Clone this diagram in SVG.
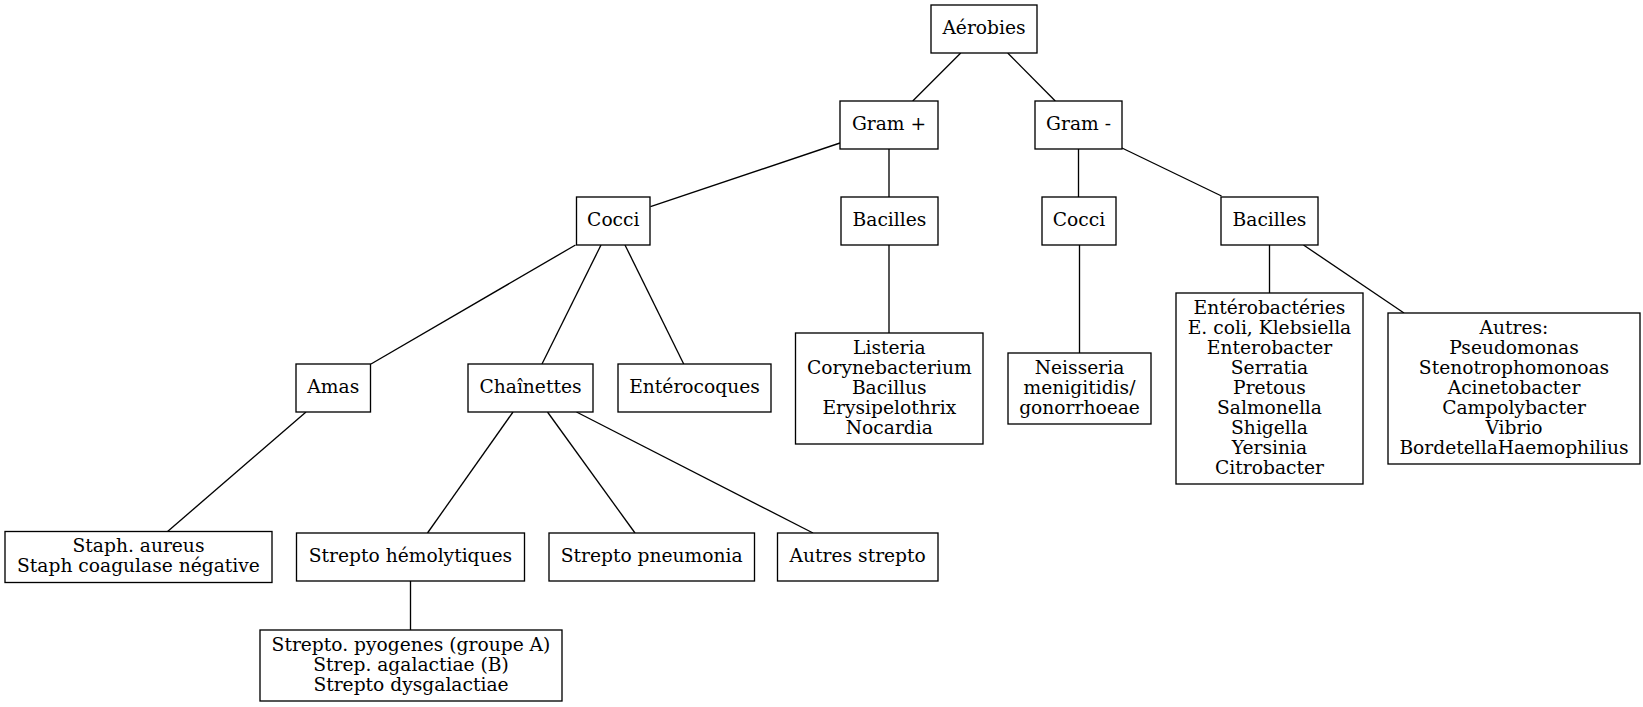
<svg xmlns="http://www.w3.org/2000/svg" width="1643" height="707" viewBox="0 0 1643 707">
<style>
rect{fill:#fff;stroke:#000;stroke-width:1.33}
line{stroke:#000;stroke-width:1.33}
text{font-family:"DejaVu Serif","Liberation Serif",serif;font-size:18.67px;fill:#000;text-anchor:middle}
</style>
<rect x="0" y="0" width="1643" height="707" style="fill:#fff;stroke:none"/>
<g id="edges">
<line x1="960.7" y1="53" x2="912.7" y2="101"/>
<line x1="1007.7" y1="53" x2="1055.3" y2="101"/>
<line x1="840" y1="143" x2="650.5" y2="206.7"/>
<line x1="889" y1="149" x2="889" y2="197"/>
<line x1="1078.5" y1="149" x2="1078.5" y2="197"/>
<line x1="1122" y1="148" x2="1221.5" y2="196"/>
<line x1="575.5" y1="245" x2="371" y2="364"/>
<line x1="601" y1="245" x2="542" y2="364"/>
<line x1="625" y1="245" x2="683.7" y2="364"/>
<line x1="889" y1="245" x2="889" y2="333"/>
<line x1="1079.5" y1="245" x2="1079.5" y2="353"/>
<line x1="1269.5" y1="245" x2="1269.5" y2="293"/>
<line x1="1303.5" y1="245" x2="1404" y2="313"/>
<line x1="306" y1="412" x2="167" y2="532"/>
<line x1="513" y1="412" x2="427.5" y2="533"/>
<line x1="547.5" y1="412" x2="635" y2="533"/>
<line x1="576.5" y1="412" x2="813" y2="533"/>
<line x1="410.5" y1="581" x2="410.5" y2="630"/>
</g>
<g id="aerobies"><rect x="931" y="5" width="106" height="48"/><text x="984" y="34">Aérobies</text></g>
<g id="gram_plus"><rect x="840" y="101" width="98" height="48"/><text x="889" y="130">Gram +</text></g>
<g id="gram_minus"><rect x="1035" y="101" width="87" height="48"/><text x="1078.5" y="130">Gram -</text></g>
<g id="cocci_pos"><rect x="576.5" y="197" width="73.5" height="48"/><text x="613.3" y="226">Cocci</text></g>
<g id="bacilles_pos"><rect x="841" y="197" width="97" height="48"/><text x="889.5" y="226">Bacilles</text></g>
<g id="cocci_neg"><rect x="1042" y="197" width="74" height="48"/><text x="1079" y="226">Cocci</text></g>
<g id="bacilles_neg"><rect x="1221" y="197" width="97" height="48"/><text x="1269.5" y="226">Bacilles</text></g>
<g id="amas"><rect x="296" y="364" width="74.5" height="48"/><text x="333.3" y="393">Amas</text></g>
<g id="chainettes"><rect x="468" y="364" width="125" height="48"/><text x="530.5" y="393">Chaînettes</text></g>
<g id="enterocoques"><rect x="618" y="364" width="153" height="48"/><text x="694.5" y="393">Entérocoques</text></g>
<g id="listeria"><rect x="795.5" y="333" width="187.5" height="111"/>
<text x="889.3" y="353.7">Listeria</text><text x="889.3" y="373.7">Corynebacterium</text><text x="889.3" y="393.7">Bacillus</text><text x="889.3" y="413.7">Erysipelothrix</text><text x="889.3" y="433.7">Nocardia</text></g>
<g id="neisseria"><rect x="1008" y="353" width="143" height="71"/>
<text x="1079.5" y="373.5">Neisseria</text><text x="1079.5" y="393.5">menigitidis/</text><text x="1079.5" y="413.5">gonorrhoeae</text></g>
<g id="enterobacteries"><rect x="1176" y="293" width="187" height="191"/>
<text x="1269.5" y="313.5">Entérobactéries</text><text x="1269.5" y="333.5">E. coli, Klebsiella</text><text x="1269.5" y="353.5">Enterobacter</text><text x="1269.5" y="373.5">Serratia</text><text x="1269.5" y="393.5">Pretous</text><text x="1269.5" y="413.5">Salmonella</text><text x="1269.5" y="433.5">Shigella</text><text x="1269.5" y="453.5">Yersinia</text><text x="1269.5" y="473.5">Citrobacter</text></g>
<g id="autres"><rect x="1388" y="313" width="252" height="151"/>
<text x="1514" y="333.7">Autres:</text><text x="1514" y="353.7">Pseudomonas</text><text x="1514" y="373.7">Stenotrophomonoas</text><text x="1514" y="393.7">Acinetobacter</text><text x="1514" y="413.7">Campolybacter</text><text x="1514" y="433.7">Vibrio</text><text x="1514" y="453.7">BordetellaHaemophilius</text></g>
<g id="staph"><rect x="5" y="531.5" width="267" height="51"/>
<text x="138.5" y="552">Staph. aureus</text><text x="138.5" y="572">Staph coagulase négative</text></g>
<g id="strepto_hemolytiques"><rect x="296.5" y="533" width="228" height="48"/><text x="410.5" y="562">Strepto hémolytiques</text></g>
<g id="strepto_pneumonia"><rect x="549" y="533" width="205.5" height="48"/><text x="651.7" y="562">Strepto pneumonia</text></g>
<g id="autres_strepto"><rect x="777.5" y="533" width="160.5" height="48"/><text x="857.7" y="562">Autres strepto</text></g>
<g id="pyogenes"><rect x="260" y="630" width="302" height="71"/>
<text x="411" y="650.5">Strepto. pyogenes (groupe A)</text><text x="411" y="670.5">Strep. agalactiae (B)</text><text x="411" y="690.5">Strepto dysgalactiae</text></g>
</svg>
